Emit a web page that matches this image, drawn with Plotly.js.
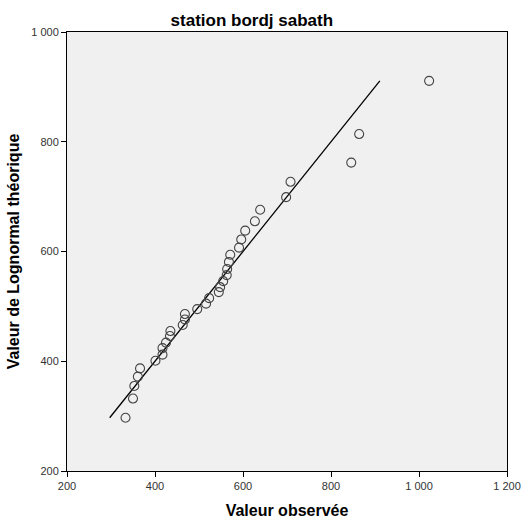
<!DOCTYPE html>
<html>
<head>
<meta charset="utf-8">
<script src="https://cdn.plot.ly/plotly-3.0.1.min.js"></script>
<style>html,body{margin:0;padding:0;background:#fff;}#chart{width:522px;height:519px;}</style>
</head>
<body>
<div id="chart"></div>
<script>
var observed = [333, 350, 353, 361, 366, 401, 417, 417, 425, 434, 435, 463, 468, 468, 496, 516, 523, 545, 548, 555, 563, 564, 568, 571, 591, 596, 605, 627, 639, 698, 708, 846, 864, 1023];
var theoretical = [297, 332, 355, 372, 387, 401, 412, 424, 434, 446, 455, 466, 476, 486, 495, 505, 515, 526, 535, 546, 557, 568, 581, 594, 607, 622, 638, 655, 676, 699, 727, 762, 814, 911];
var refLineX = [297, 911];
var refLineY = [297, 911];
var tickVals = [200, 400, 600, 800, 1000, 1200];
var tickText = ['200', '400', '600', '800', '1 000', '1 200'];
var yTickVals = [200, 400, 600, 800, 1000];
var yTickText = ['200', '400', '600', '800', '1 000'];

var traces = [
  {x: refLineX, y: refLineY, mode: 'lines', type: 'scatter',
   line: {color: '#000', width: 1.3}, hoverinfo: 'skip'},
  {x: observed, y: theoretical, mode: 'markers', type: 'scatter',
   marker: {symbol: 'circle-open', size: 9, color: '#444', line: {width: 1.1, color: '#444'}}}
];
var font = {family: 'Liberation Sans, Arial, sans-serif', color: '#222'};
var layout = {
  width: 522, height: 519,
  margin: {l: 67, r: 15, t: 32, b: 48},
  paper_bgcolor: '#fff', plot_bgcolor: '#f0f0f0',
  showlegend: false,
  font: font,
  title: {text: '<b>station bordj sabath</b>', font: {size: 17, family: font.family, color: '#000'},
          xref: 'paper', x: 0.42, xanchor: 'center', yref: 'container', y: 0.962, yanchor: 'middle'},
  xaxis: {range: [200, 1200], tickvals: tickVals, ticktext: tickText, ticks: 'outside', ticklen: 5,
          tickcolor: '#000', tickfont: {size: 11, color: '#333'}, showgrid: false, zeroline: false,
          showline: true, linecolor: '#000', linewidth: 1, mirror: true,
          title: {text: '<b>Valeur observée</b>', font: {size: 16, color: '#000'}, standoff: 14}},
  yaxis: {range: [200, 1000], tickvals: yTickVals, ticktext: yTickText, ticks: 'outside', ticklen: 5,
          tickcolor: '#000', tickfont: {size: 11, color: '#333'}, showgrid: false, zeroline: false,
          showline: true, linecolor: '#000', linewidth: 1, mirror: true,
          title: {text: '<b>Valeur de Lognormal théorique</b>', font: {size: 16, color: '#000'}, standoff: 7}}
};
Plotly.newPlot('chart', traces, layout, {displayModeBar: false, staticPlot: true});
</script>
</body>
</html>
